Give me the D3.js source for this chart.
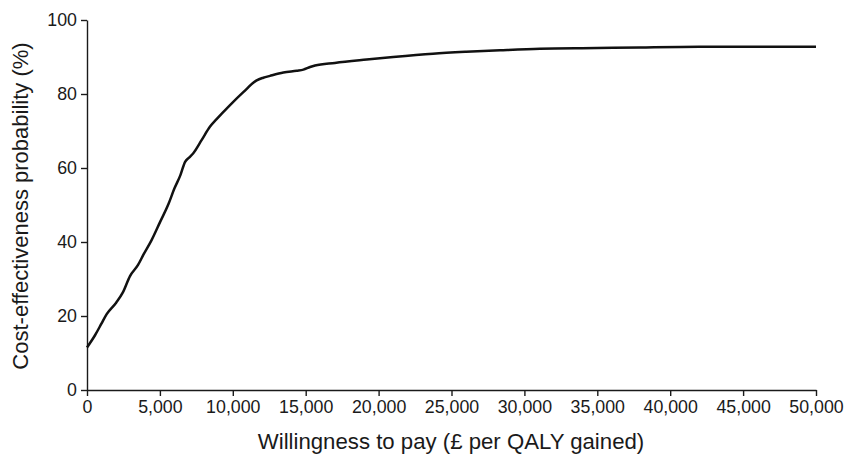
<!DOCTYPE html>
<html>
<head>
<meta charset="utf-8">
<script src="https://cdn.jsdelivr.net/npm/d3@7"></script>
<style>
  html, body { margin: 0; padding: 0; background: #fff; }
  svg { display: block; }
  text { font-family: "Liberation Sans", Arial, Helvetica, sans-serif; fill: #1a1a1a; }
</style>
</head>
<body>
<svg id="chart" width="844" height="455"></svg>
<script>
// Willingness to pay (£ per QALY gained)
const wtp = [0, 550, 1000, 1350, 2000, 2450, 2950, 3500, 3860, 4430, 5000, 5580, 6000, 6400, 6720, 7000, 7290, 7870, 8440, 8890, 9810, 10720, 11640, 12090, 12550, 13470, 14380, 14840, 15300, 15640, 17000, 19180, 21000, 23730, 26000, 28330, 31070, 35000, 37930, 42000, 46000, 50000];
// Cost-effectiveness probability (%)
const prob = [11.5, 14.8, 18.0, 20.5, 23.6, 26.3, 30.8, 33.8, 36.5, 40.5, 45.3, 50.2, 54.5, 58.0, 61.6, 62.8, 64.0, 67.6, 71.2, 73.2, 77.0, 80.5, 83.7, 84.4, 84.9, 85.8, 86.3, 86.6, 87.3, 87.7, 88.4, 89.3, 90.0, 90.9, 91.4, 91.8, 92.2, 92.4, 92.6, 92.8, 92.8, 92.8];

const xTicks = [0, 5000, 10000, 15000, 20000, 25000, 30000, 35000, 40000, 45000, 50000];
const yTicks = [0, 20, 40, 60, 80, 100];
const xTitle = "Willingness to pay (£ per QALY gained)";
const yTitle = "Cost-effectiveness probability (%)";

const svg = d3.select("#chart");
const x = d3.scaleLinear().domain([0, 50000]).range([87, 816]);
const y = d3.scaleLinear().domain([0, 100]).range([390, 20]);

const fmt = d3.format(",");

const gx = svg.append("g")
  .attr("transform", `translate(0,${y(0)})`)
  .call(d3.axisBottom(x).tickValues(xTicks).tickFormat(fmt).tickSize(6).tickPadding(4).tickSizeOuter(0));
const gy = svg.append("g")
  .attr("transform", `translate(${x(0)},0)`)
  .call(d3.axisLeft(y).tickValues(yTicks).tickSize(6).tickPadding(4).tickSizeOuter(0));

[gx, gy].forEach(g => {
  g.selectAll(".domain").attr("stroke", "#1a1a1a").attr("stroke-width", 1.4);
  g.selectAll(".tick line").attr("stroke", "#1a1a1a").attr("stroke-width", 1.4);
  g.selectAll(".tick text").attr("font-size", 17.8).attr("fill", "#1a1a1a")
    .style("font-family", '"Liberation Sans", Arial, sans-serif');
});

const line = d3.line()
  .x((d, i) => x(wtp[i]))
  .y((d, i) => y(prob[i]))
  .curve(d3.curveMonotoneX);

svg.append("path")
  .datum(prob)
  .attr("d", line)
  .attr("fill", "none")
  .attr("stroke", "#111")
  .attr("stroke-width", 2.5)
  .attr("stroke-linejoin", "round");

svg.append("text")
  .attr("x", 451)
  .attr("y", 449)
  .attr("text-anchor", "middle")
  .attr("font-size", 22.2)
  .text(xTitle);

svg.append("text")
  .attr("transform", `translate(28,${206}) rotate(-90)`)
  .attr("text-anchor", "middle")
  .attr("font-size", 22)
  .text(yTitle);
</script>
</body>
</html>
